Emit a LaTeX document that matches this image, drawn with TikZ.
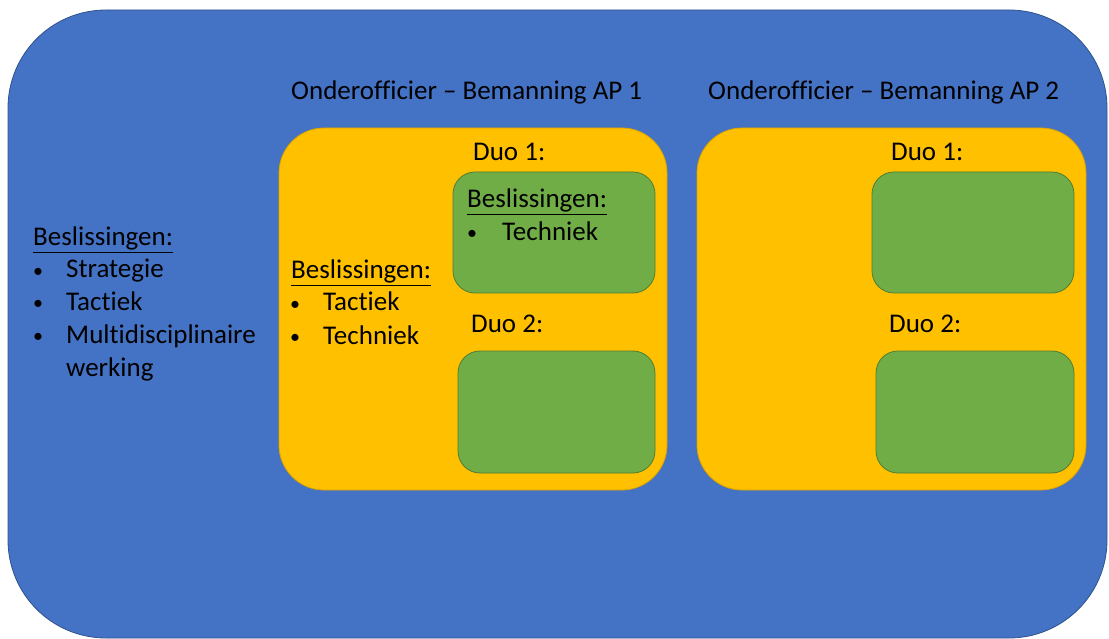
\documentclass[tikz,border=0pt]{standalone}
\usepackage{fontspec}
\setmainfont{Carlito}[Ligatures=NoCommon]
\definecolor{bluefill}{HTML}{4472C4}
\definecolor{blueline}{HTML}{2F528F}
\definecolor{yellowfill}{HTML}{FFC000}
\definecolor{yellowline}{HTML}{D9A300}
\definecolor{greenfill}{HTML}{70AD47}
\definecolor{greenline}{HTML}{507E32}
\tikzset{
  outerbox/.style={fill=bluefill, draw=blueline, line width=0.8pt, rounded corners=98pt},
  apbox/.style={fill=yellowfill, draw=yellowline, line width=0.8pt, rounded corners=45pt},
  duobox/.style={fill=greenfill, draw=greenline, line width=0.8pt, rounded corners=22pt},
  txt/.style={anchor=base west, inner sep=0pt, font=\fontsize{27}{32}\selectfont, text=black},
  bul/.style={anchor=base west, inner sep=0pt, font=\fontsize{20}{24}\selectfont, text=black}
}
\begin{document}
\begin{tikzpicture}[x=1pt,y=-1pt]
\useasboundingbox (0,0) rectangle (1109,639);
% outer blue
\draw[outerbox] (8,10) rectangle (1107,638);
% yellow AP boxes
\draw[apbox] (279,128) rectangle (667,490);
\draw[apbox] (697,128) rectangle (1086,490);
% green duo boxes
\draw[duobox] (453,172) rectangle (655,293);
\draw[duobox] (458,351) rectangle (655,473);
\draw[duobox] (872,172) rectangle (1074,293);
\draw[duobox] (876,351) rectangle (1074,473);
% titles
\node[txt] (t1) at (291,100) {Onderofficier – Bemanning AP 1};
\node[txt] (t2) at (708,100) {Onderofficier – Bemanning AP 2};
% duo labels
\node[txt] (d11) at (473,161) {Duo 1:};
\node[txt] (d12) at (471,332) {Duo 2:};
\node[txt] (d21) at (891,161) {Duo 1:};
\node[txt] (d22) at (889,332) {Duo 2:};
% green box text
\node[txt] (gb) at (467,208) {\underline{Beslissingen:}};
\node[bul] (gbb1) at (467,240) {•};
\node[txt] (gbt1) at (502,241) {Techniek};
% yellow box text
\node[txt] (yb) at (291,279) {\underline{Beslissingen:}};
\node[bul] (ybb1) at (290,310) {•};
\node[txt] (ybt1) at (323,311) {Tactiek};
\node[bul] (ybb2) at (290,343) {•};
\node[txt] (ybt2) at (323,344) {Techniek};
% left text
\node[txt] (lb) at (33,246) {\underline{Beslissingen:}};
\node[bul] (lbb1) at (33,277) {•};
\node[txt] (lbt1) at (66,278) {Strategie};
\node[bul] (lbb2) at (33,309) {•};
\node[txt] (lbt2) at (66,310) {Tactiek};
\node[bul] (lbb3) at (33,342) {•};
\node[txt] (lbt3) at (66,343) {Multidisciplinaire};
\node[txt] (lbt4) at (66,376) {werking};
\end{tikzpicture}
\end{document}
